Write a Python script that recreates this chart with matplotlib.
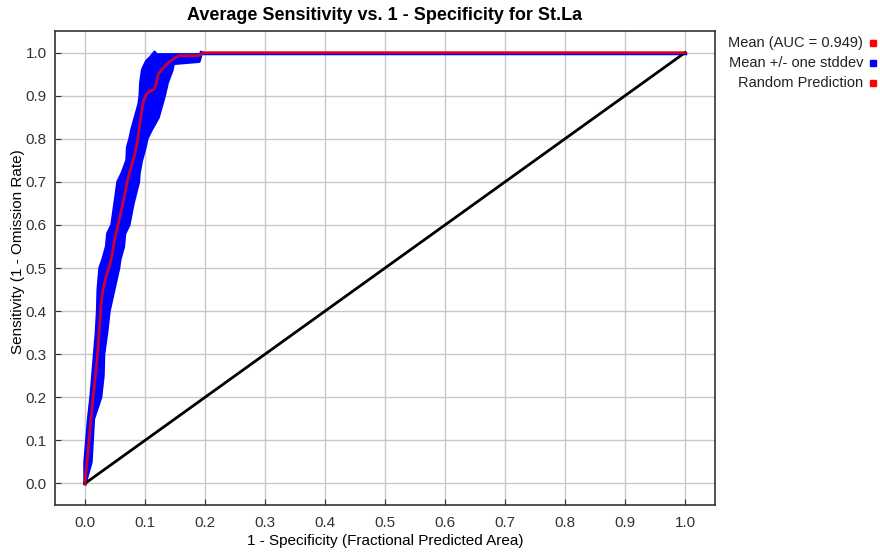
import numpy as np
import matplotlib
matplotlib.use("Agg")
import matplotlib.pyplot as plt

plt.rcParams['font.family'] = ['Liberation Sans', 'DejaVu Sans']

# mean ROC curve (1 - specificity, sensitivity)
mean_fpr = [0, 0.004, 0.008, 0.012, 0.015, 0.019, 0.022, 0.025, 0.027, 0.030,
            0.035, 0.040, 0.045, 0.050, 0.055, 0.060, 0.066, 0.072, 0.078, 0.084,
            0.088, 0.092, 0.095, 0.098, 0.103, 0.108, 0.115, 0.119, 0.122, 0.128,
            0.135, 0.142, 0.150, 0.158, 0.175, 0.190, 0.197, 1.0]
mean_tpr = [0, 0.06, 0.12, 0.18, 0.22, 0.27, 0.32, 0.38, 0.42, 0.45,
            0.48, 0.50, 0.53, 0.57, 0.60, 0.63, 0.67, 0.71, 0.74, 0.77,
            0.80, 0.84, 0.87, 0.89, 0.905, 0.91, 0.915, 0.93, 0.95, 0.96,
            0.972, 0.98, 0.988, 0.993, 0.993, 0.993, 1.0, 1.0]

# +/- one stddev band: sensitivity levels and left / right edges
band_tpr = [0, 0.05, 0.10, 0.15, 0.20, 0.25, 0.30, 0.35, 0.40, 0.45, 0.50,
            0.52, 0.55, 0.58, 0.60, 0.65, 0.70, 0.72, 0.75, 0.78, 0.80, 0.82,
            0.85, 0.88, 0.90, 0.93, 0.96, 0.975, 0.98, 0.99, 1.0]
band_left = [0, 0.0, 0.003, 0.006, 0.010, 0.013, 0.016, 0.019, 0.021, 0.022, 0.025,
             0.030, 0.036, 0.038, 0.045, 0.050, 0.055, 0.062, 0.070, 0.071, 0.075,
             0.078, 0.084, 0.090, 0.092, 0.093, 0.096, 0.101, 0.103, 0.110, 0.116]
band_right = [0, 0.010, 0.012, 0.014, 0.026, 0.030, 0.031, 0.036, 0.040, 0.048, 0.056,
              0.058, 0.064, 0.066, 0.073, 0.080, 0.089, 0.090, 0.094, 0.100, 0.103,
              0.110, 0.122, 0.128, 0.132, 0.137, 0.145, 0.147, 0.190, 0.192, 0.194]
band_flat_x = [0.194, 1.0]
band_flat_y = [1.0, 1.0]

random_x = [0, 1]
random_y = [0, 1]

legend_labels = ["Mean (AUC = 0.949)", "Mean +/- one stddev", "Random Prediction"]
legend_colors = ["#ff0000", "#0000ff", "#ff0000"]

fig = plt.figure(figsize=(8.8, 5.53), dpi=100)
ax = fig.add_axes([0.0625, 0.0868, 0.75, 0.857])

ax.fill_betweenx(band_tpr, band_left, band_right, color="#0000ff", lw=0)
ax.plot(band_left, band_tpr, color="#0000ff", lw=2.5)
ax.plot(band_right, band_tpr, color="#0000ff", lw=2.5)
ax.plot(band_flat_x, band_flat_y, color="#0000ff", lw=2.5)
ax.plot(random_x, random_y, color="black", lw=2)
ax.plot(mean_fpr, mean_tpr, color="#ff0000", lw=2, alpha=0.8)

ax.set_xlim(-0.05, 1.05)
ax.set_ylim(-0.05, 1.05)
ticks = np.round(np.arange(0, 1.01, 0.1), 1)
ax.set_xticks(ticks)
ax.set_yticks(ticks)
ax.set_xticklabels([f"{t:.1f}" for t in ticks])
ax.set_yticklabels([f"{t:.1f}" for t in ticks])
ax.tick_params(direction="in", length=4, labelsize=11, colors="#333333", pad=6)
ax.tick_params(axis="x", pad=8)
ax.grid(True, color="#c8c8c8", lw=1)
ax.set_axisbelow(True)
for s in ax.spines.values():
    s.set_color("#333333")
    s.set_linewidth(1.2)

ax.set_title("Average Sensitivity vs. 1 - Specificity for St.La",
             fontsize=13, fontweight="bold", pad=8)
ax.set_xlabel("1 - Specificity (Fractional Predicted Area)", fontsize=11, labelpad=3)
ax.set_ylabel("Sensitivity (1 - Omission Rate)", fontsize=11)
ax.yaxis.set_label_coords(-0.046, 0.534)

# legend outside on the right
for i, (lab, col) in enumerate(zip(legend_labels, legend_colors)):
    y = 1 - (43 + 20 * i) / 553
    fig.text(863 / 880, y, lab, ha="right", va="center", fontsize=10.5, color="#222222")
    fig.patches.append(plt.Rectangle((870 / 880, y - 3 / 553), 6 / 880, 6 / 553,
                                     transform=fig.transFigure, color=col, figure=fig))

fig.savefig("out.png", dpi=100)
